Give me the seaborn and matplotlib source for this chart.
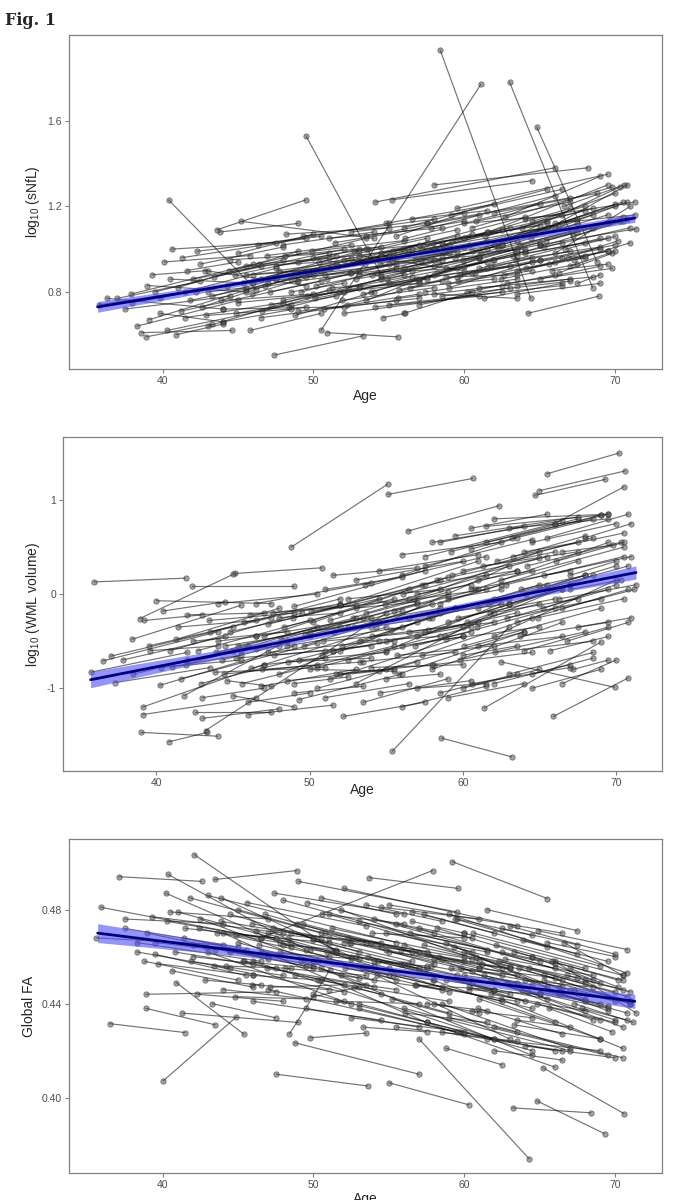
import numpy as np
import pandas as pd
import matplotlib
matplotlib.use('Agg')
import matplotlib.pyplot as plt
import seaborn as sns

# ---- panel 1: log10(sNfL), one row per subject (first visit, second visit)
p1_age0 = [35.8, 36.3, 37.0, 37.9, 38.3, 38.6, 38.9, 39.1, 39.3, 39.5,
           39.8, 40.1, 40.3, 40.4, 40.6, 40.9, 41.0, 41.3, 41.5, 41.8,
           42.0, 42.3, 42.6, 42.8, 43.0, 43.3, 43.6, 43.8, 44.0, 44.3,
           44.5, 44.8, 45.0, 45.2, 45.5, 45.8, 46.0, 46.3, 46.6, 46.9,
           47.1, 47.4, 47.7, 48.0, 48.2, 48.5, 48.8, 49.0, 49.3, 49.5,
           49.6, 49.9, 50.2, 50.5, 50.7, 50.9, 51.1, 51.4, 51.7, 52.0,
           52.2, 52.5, 52.8, 53.0, 53.3, 53.6, 53.9, 54.1, 54.4, 54.6,
           54.8, 55.0, 55.3, 55.6, 55.9, 56.1, 56.4, 56.7, 57.0, 57.2,
           57.5, 57.8, 58.0, 58.4, 58.3, 58.6, 58.9, 59.1, 59.4, 59.7,
           60.0, 60.2, 60.5, 60.8, 61.0, 61.3, 61.6, 61.9, 62.1, 62.4,
           62.7, 63.0, 63.2, 63.5, 63.8, 64.2, 64.0, 64.4, 64.8, 65.0,
           65.3, 65.6, 66.0, 66.3, 66.6, 66.9, 67.2, 67.5, 65.0, 61.5,
           56.0, 59.0, 52.3, 45.5, 47.5, 50.8, 43.0, 54.0, 60.0, 62.5,
           57.0, 48.5, 53.5, 64.5, 55.5, 50.0, 46.0, 58.0, 63.5, 67.0,
           58.0, 54.1, 55.2, 59.5]
p1_age1 = [41.5, 44.0, 42.5, 46.0, 45.0, 44.6, 43.3, 47.0, 43.0, 48.0,
           44.0, 45.8, 48.5, 46.2, 47.5, 44.0, 49.0, 49.5, 48.0, 50.0,
           46.5, 50.5, 50.0, 49.5, 51.0, 47.5, 49.5, 49.0, 52.0, 52.5,
           51.0, 53.0, 52.0, 54.0, 53.5, 50.5, 53.0, 55.0, 54.5, 52.5,
           55.5, 53.3, 55.0, 56.0, 55.0, 57.0, 54.0, 56.5, 58.0, 54.5,
           57.5, 56.0, 58.5, 61.1, 57.0, 55.6, 59.0, 60.0, 58.5, 59.5,
           60.5, 57.5, 61.0, 60.0, 62.0, 59.5, 62.5, 61.0, 63.0, 56.1,
           62.0, 61.5, 64.0, 62.5, 63.5, 65.0, 62.0, 64.5, 63.0, 65.5,
           64.0, 66.0, 63.5, 64.4, 65.0, 67.0, 64.5, 66.5, 67.5, 65.0,
           68.0, 66.0, 68.5, 67.0, 69.0, 66.5, 69.5, 68.0, 70.0, 67.5,
           69.0, 68.5, 70.5, 68.0, 70.0, 68.9, 69.5, 70.8, 68.8, 69.0,
           71.0, 70.2, 71.3, 69.8, 70.6, 69.5, 70.3, 69.0, 71.4, 70.3,
           60.5, 64.5, 56.5, 49.0, 51.5, 55.0, 45.5, 58.0, 63.5, 66.0,
           61.0, 52.0, 57.0, 68.0, 60.0, 53.5, 49.5, 61.5, 67.0, 70.0,
           68.2, 66.0, 64.5, 69.5]
p1_y0 = [0.74, 0.77, 0.77, 0.79, 0.64, 0.61, 0.59, 0.67, 0.88, 0.80,
         0.70, 0.94, 0.62, 1.23, 1.00, 0.60, 0.82, 0.96, 0.68, 0.76,
         0.86, 0.99, 0.73, 0.90, 0.64, 0.78, 1.09, 1.08, 0.72, 0.83,
         0.95, 0.88, 0.75, 1.13, 0.92, 0.62, 0.85, 1.02, 0.71, 0.97,
         0.80, 0.505, 0.90, 0.76, 1.07, 0.86, 0.69, 0.94, 1.06, 1.53,
         0.78, 0.99, 0.83, 0.62, 0.72, 0.61, 0.91, 1.03, 0.80, 0.95,
         0.74, 1.08, 0.86, 0.97, 0.79, 1.00, 0.88, 0.73, 0.93, 0.68,
         1.12, 0.84, 0.99, 0.77, 0.90, 1.05, 0.82, 0.95, 0.74, 1.00,
         0.87, 1.10, 0.79, 1.93, 0.93, 1.02, 0.84, 1.16, 0.96, 0.88,
         1.05, 0.80, 0.99, 1.13, 0.91, 0.77, 1.08, 0.95, 1.02, 0.86,
         1.15, 1.78, 0.97, 0.90, 1.10, 0.70, 0.98, 1.05, 1.57, 0.86,
         1.01, 0.93, 1.12, 0.89, 1.20, 0.96, 1.06, 0.84, 1.02, 1.00,
         0.70, 0.82, 0.82, 0.81, 0.92, 0.88, 0.80, 0.96, 0.92, 1.04,
         0.85, 0.80, 0.76, 1.13, 1.06, 0.96, 0.88, 1.00, 0.83, 0.92,
         1.30, 1.22, 1.23, 1.19]
p1_y1 = [0.80, 0.72, 0.85, 0.93, 0.76, 0.62, 0.65, 0.84, 0.90, 0.95,
         0.66, 0.97, 0.74, 0.81, 1.03, 0.65, 0.99, 1.05, 0.75, 0.88,
         0.92, 1.06, 0.90, 0.83, 0.81, 0.86, 1.23, 1.12, 0.73, 0.96,
         0.98, 1.00, 0.80, 1.05, 0.95, 0.70, 0.99, 1.12, 0.86, 1.02,
         0.93, 0.595, 0.97, 0.88, 1.10, 1.02, 0.80, 1.00, 1.14, 0.88,
         0.86, 1.04, 0.95, 1.77, 0.79, 0.59, 1.02, 1.13, 0.85, 1.06,
         0.89, 1.12, 0.96, 0.90, 0.95, 1.09, 1.02, 0.78, 1.10, 0.70,
         1.21, 0.91, 1.15, 0.83, 1.04, 1.21, 0.86, 1.08, 0.82, 1.10,
         0.99, 1.25, 0.77, 0.77, 1.02, 1.19, 0.90, 1.28, 1.12, 0.95,
         1.18, 0.88, 1.16, 1.22, 1.05, 0.84, 1.30, 1.03, 1.21, 0.93,
         1.34, 0.82, 1.13, 0.96, 1.26, 0.78, 1.05, 1.30, 0.94, 0.92,
         1.10, 1.04, 1.16, 0.98, 1.30, 0.99, 1.13, 0.88, 1.095, 1.29,
         0.80, 0.94, 0.90, 0.85, 0.97, 0.93, 0.82, 1.00, 0.97, 1.10,
         0.96, 0.84, 0.86, 1.20, 1.17, 1.00, 0.90, 1.04, 0.86, 0.99,
         1.38, 1.38, 1.32, 1.35]
# subjects in the dense middle band
p1b_age0 = [37.5, 38.0, 39.0, 39.8, 40.5, 41.2, 41.6, 42.2, 42.9, 43.4,
            43.9, 44.4, 44.9, 45.3, 45.9, 46.4, 46.8, 47.2, 47.6, 48.1,
            48.4, 48.9, 49.2, 49.7, 50.1, 50.4, 50.9, 51.2, 51.6, 51.9,
            52.4, 52.7, 53.1, 53.4, 53.8, 54.2, 54.5, 54.9, 55.2, 55.7,
            56.0, 56.3, 56.8, 57.1, 57.4, 57.9, 58.2, 58.5, 58.8, 59.2,
            59.6, 59.9, 60.3, 60.7, 61.1, 61.4, 61.8, 62.2, 62.6, 63.0,
            63.4, 63.7, 64.1, 64.6, 65.0, 65.4, 65.8, 66.2, 66.7, 67.3,
            60.5, 62.0, 57.5, 56.0, 53.5, 51.0, 48.0, 45.0, 42.5, 55.0,
            52.0, 58.5, 61.0, 63.5, 49.0, 46.5, 44.0, 59.5, 54.5, 50.5,
            47.0, 64.0, 60.0, 56.5, 66.0, 62.8, 58.8, 53.0, 49.5, 45.5]
p1b_age1 = [44.5, 46.5, 45.5, 47.5, 46.0, 50.5, 45.0, 51.5, 48.5, 52.0,
            50.0, 53.5, 51.5, 52.5, 54.5, 51.0, 56.0, 53.0, 57.5, 54.5,
            56.5, 55.5, 59.0, 55.0, 58.0, 57.5, 60.0, 57.0, 61.5, 58.0,
            62.0, 58.5, 61.5, 60.5, 63.5, 59.5, 62.5, 63.5, 61.0, 64.5,
            62.5, 65.5, 63.0, 66.5, 63.5, 65.0, 66.5, 64.0, 67.5, 65.5,
            66.0, 68.5, 67.5, 66.5, 69.5, 68.5, 67.0, 69.5, 68.0, 70.0,
            69.0, 70.5, 69.5, 70.5, 70.0, 70.8, 69.5, 70.8, 70.0, 71.0,
            69.8, 68.8, 67.0, 65.5, 61.0, 58.5, 54.0, 50.0, 48.0, 66.5,
            62.5, 67.0, 68.5, 69.0, 57.0, 55.5, 49.5, 69.0, 65.0, 59.5,
            58.0, 71.3, 66.5, 61.5, 71.0, 69.8, 63.5, 58.0, 53.0, 50.5]
p1b_y0 = [0.72, 0.75, 0.83, 0.77, 0.86, 0.71, 0.90, 0.80, 0.69, 0.87,
          0.76, 0.90, 0.70, 0.84, 0.79, 0.93, 0.83, 0.74, 0.87, 0.97,
          0.73, 0.85, 0.80, 0.90, 0.77, 0.94, 0.86, 0.82, 0.92, 0.76,
          0.89, 0.99, 0.83, 0.93, 0.80, 0.89, 0.98, 0.86, 0.94, 0.81,
          0.91, 0.98, 0.86, 0.95, 0.80, 1.03, 0.89, 0.97, 0.91, 1.04,
          0.85, 0.95, 1.02, 0.89, 0.98, 1.06, 0.92, 1.00, 0.88, 1.05,
          0.95, 1.02, 0.91, 1.08, 0.95, 1.04, 0.90, 1.10, 1.00, 0.95,
          1.10, 1.17, 1.12, 1.10, 1.06, 1.05, 1.02, 0.98, 0.93, 0.74,
          0.70, 0.78, 0.82, 0.79, 0.71, 0.68, 0.66, 0.87, 0.87, 0.90,
          0.86, 1.14, 1.12, 1.14, 0.98, 0.84, 0.87, 0.88, 0.87, 0.88]
p1b_y1 = [0.78, 0.86, 0.80, 0.91, 0.84, 0.85, 0.94, 0.93, 0.72, 1.00,
          0.79, 1.05, 0.78, 0.89, 0.97, 0.96, 0.99, 0.82, 1.03, 1.01,
          0.87, 0.91, 0.98, 0.97, 0.88, 1.05, 1.01, 0.84, 1.08, 0.82,
          1.02, 1.03, 0.94, 1.07, 0.99, 0.91, 1.09, 1.00, 0.97, 0.96,
          1.02, 1.13, 0.92, 1.12, 0.86, 1.11, 1.03, 1.00, 1.08, 1.12,
          0.94, 1.10, 1.14, 0.96, 1.16, 1.19, 0.99, 1.12, 0.97, 1.20,
          1.01, 1.15, 0.99, 1.22, 1.02, 1.14, 0.93, 1.22, 1.06, 1.03,
          1.29, 1.26, 1.24, 1.28, 1.16, 1.10, 1.08, 1.07, 1.01, 0.83,
          0.80, 0.85, 0.87, 0.84, 0.77, 0.76, 0.73, 1.00, 1.03, 0.99,
          0.95, 1.22, 1.16, 1.18, 1.20, 0.91, 0.88, 0.92, 0.90, 0.91]

# ---- panel 2: log10(WML volume)
p2_age0 = [35.95, 35.7, 36.5, 37.0, 37.3, 38.4, 38.9, 39.0, 39.1, 39.1,
           39.2, 39.6, 40.0, 40.2, 40.4, 40.8, 41.0, 41.3, 41.6, 41.8,
           42.0, 42.3, 42.5, 42.7, 43.0, 43.2, 43.5, 43.8, 44.0, 44.3,
           44.6, 45.0, 45.1, 45.3, 45.7, 46.0, 46.2, 46.5, 46.8, 47.0,
           47.3, 47.6, 48.0, 48.3, 48.6, 48.8, 49.0, 49.3, 49.6, 50.0,
           50.2, 50.5, 50.8, 51.0, 51.3, 51.6, 52.0, 52.2, 52.5, 52.8,
           53.0, 53.3, 53.6, 54.0, 54.3, 54.6, 55.1, 55.4, 55.0, 55.5,
           55.8, 56.0, 56.4, 56.5, 56.8, 57.0, 57.3, 57.5, 57.8, 58.0,
           58.3, 58.6, 58.8, 59.0, 59.2, 59.5, 59.8, 60.0, 60.3, 60.6,
           60.8, 61.0, 61.4, 61.5, 61.8, 62.0, 62.2, 62.5, 62.8, 63.0,
           63.2, 63.5, 63.8, 64.0, 64.2, 64.5, 64.7, 65.0, 65.2, 65.5,
           65.9, 66.0, 66.3, 66.5, 66.8, 67.0, 67.2, 62.0, 60.5, 58.5,
           48.0, 45.5, 50.0, 53.0, 44.0, 56.0, 59.0, 61.0, 63.0, 51.5,
           49.0, 54.5, 57.0, 47.0, 52.0, 68.0, 55.0, 60.0, 42.0, 64.0]
p2_age1 = [41.9, 42.0, 44.0, 45.0, 43.5, 45.5, 45.0, 44.0, 47.0, 46.5,
           43.0, 44.0, 47.5, 49.0, 44.5, 43.3, 45.5, 48.0, 50.5, 48.5,
           47.0, 49.0, 47.5, 50.0, 48.0, 55.0, 52.0, 51.0, 50.5, 52.5,
           47.5, 49.0, 50.8, 53.5, 52.0, 51.5, 55.0, 54.0, 53.0, 56.5,
           54.5, 53.0, 57.0, 55.5, 54.0, 55.1, 57.5, 56.0, 58.0, 55.5,
           59.0, 57.0, 59.5, 56.0, 60.0, 58.0, 61.0, 57.5, 60.5, 59.0,
           62.0, 58.5, 61.5, 60.0, 63.0, 60.5, 60.65, 63.0, 62.5, 61.0,
           64.0, 63.5, 62.35, 62.0, 65.0, 61.5, 64.5, 66.0, 63.0, 66.5,
           65.0, 63.2, 67.0, 64.0, 67.5, 65.5, 68.0, 66.0, 68.5, 67.0,
           69.5, 66.5, 69.0, 69.5, 67.5, 70.0, 68.0, 69.9, 70.5, 68.5,
           69.0, 70.8, 68.0, 69.5, 70.3, 69.0, 69.3, 70.6, 70.0, 70.2,
           70.8, 70.5, 71.3, 69.8, 70.8, 70.0, 69.5, 69.5, 65.5, 64.0,
           52.0, 48.0, 54.0, 57.0, 46.5, 60.0, 62.5, 64.5, 66.5, 55.5,
           52.5, 58.5, 60.5, 51.0, 55.0, 71.0, 58.5, 63.5, 45.0, 67.5]
p2_y0 = [0.13, -0.83, -0.71, -0.66, -0.94, -0.48, -0.26, -1.47, -1.20, -1.28,
         -0.28, -0.60, -0.07, -0.97, -0.18, -1.57, -0.77, -0.48, -0.90, -1.08,
         -0.22, 0.09, -1.25, -0.60, -1.32, -1.45, -0.40, -0.83, -0.10, -0.70,
         -0.92, -1.08, 0.22, -0.55, -0.30, -1.28, -0.79, -0.10, -0.98, -0.45,
         -0.62, -0.20, -0.85, -0.35, -0.72, 0.50, -0.13, -1.12, -0.55, -0.80,
         -0.30, -1.00, -0.65, 0.05, -0.90, -0.40, -0.12, -1.30, -0.70, -0.25,
         -0.95, -0.50, 0.10, -0.78, -0.35, -1.05, 1.06, -1.67, -0.60, -0.18,
         -0.85, 0.20, 0.67, -0.40, -0.05, -1.00, -0.65, 0.40, -0.25, -0.80,
         0.15, -1.53, -0.45, -1.10, 0.45, -0.15, -0.70, 0.25, -0.30, -0.95,
         0.05, -0.55, -1.21, 0.55, -0.20, -0.45, 0.35, -0.72, 0.10, -0.85,
         0.60, -0.30, 0.05, -0.60, 0.30, -1.00, 1.05, 1.10, -0.15, 1.28,
         -1.30, 0.75, -0.05, 0.45, -0.50, 0.20, -0.80, 0.80, 0.70, 0.55,
         -0.25, -0.60, -0.45, -0.15, -0.50, -0.55, -0.05, 0.15, -0.10, -0.60,
         -0.95, -0.30, 0.00, -0.75, -0.85, 0.60, -0.90, -0.65, -0.70, 0.45]
p2_y1 = [0.17, -0.62, -0.40, -0.35, -0.78, -0.12, 0.21, -1.51, -0.75, -1.10,
         -0.22, -0.55, -0.10, -0.55, -0.08, -1.47, -0.65, -0.15, -0.52, -0.50,
         -0.20, 0.09, -1.25, -0.28, -1.22, -0.20, -0.05, -0.78, 0.00, -0.35,
         -0.98, -1.20, 0.28, -0.25, -0.10, -1.18, -0.35, 0.12, -0.80, 0.05,
         -0.50, -0.12, -0.30, -0.05, -0.68, 1.17, 0.25, -0.85, -0.10, -0.82,
         0.18, -0.72, -0.15, 0.18, -0.45, -0.25, 0.35, -1.15, -0.40, 0.02,
         -0.20, -0.45, 0.40, -0.75, 0.30, -0.92, 1.23, -0.35, -0.10, 0.05,
         -0.40, 0.60, 0.94, -0.30, 0.45, -0.95, -0.25, 0.75, -0.05, -0.30,
         0.38, -1.73, 0.10, -0.95, 0.80, 0.10, -0.40, 0.45, 0.20, -0.78,
         0.55, -0.45, -0.51, 0.85, -0.05, 0.15, 0.62, -0.99, 0.40, -0.62,
         0.84, 0.05, 0.20, -0.35, 0.55, -0.80, 1.22, 1.31, 0.10, 1.50,
         -0.89, 1.14, 0.10, 0.52, -0.30, 0.35, -0.70, 0.85, 0.85, 0.72,
         -0.20, -0.55, -0.35, -0.08, -0.45, -0.45, 0.05, 0.25, 0.05, -0.50,
         -0.88, -0.20, 0.10, -0.68, -0.80, 0.75, -0.85, -0.55, -0.60, 0.55]
p2b_age0 = [37.8, 38.5, 39.5, 40.3, 40.9, 41.4, 41.9, 42.4, 42.9, 43.4,
            43.9, 44.4, 44.8, 45.2, 45.6, 46.1, 46.5, 46.9, 47.3, 47.7,
            48.1, 48.5, 48.9, 49.3, 49.7, 50.1, 50.5, 50.9, 51.3, 51.7,
            52.1, 52.5, 52.9, 53.3, 53.7, 54.1, 54.5, 54.9, 55.3, 55.7,
            56.1, 56.5, 56.9, 57.3, 57.7, 58.1, 58.5, 58.9, 59.3, 59.7,
            60.1, 60.5, 60.9, 61.3, 61.7, 62.1, 62.5, 62.9, 63.3, 63.7,
            64.1, 64.5, 64.9, 65.3, 65.7, 66.1, 66.5, 67.0, 67.5, 58.0,
            59.5, 60.5, 61.5, 57.5, 56.0, 54.5, 53.0, 51.5, 63.0, 49.0,
            51.0, 53.5, 56.0, 58.5, 60.0, 46.0, 43.0, 62.0, 64.5, 50.0,
            52.0, 55.0, 57.0, 59.0, 61.0, 48.5, 46.5, 44.5, 65.5, 66.5]
p2b_age1 = [44.5, 46.0, 47.5, 45.5, 49.5, 46.5, 50.5, 48.5, 51.5, 49.0,
            53.0, 50.5, 54.5, 51.0, 55.5, 52.0, 56.0, 53.5, 57.5, 54.0,
            57.0, 55.5, 58.5, 55.0, 59.0, 56.5, 60.5, 57.5, 61.5, 58.0,
            62.0, 58.5, 62.5, 59.5, 63.5, 61.0, 64.0, 61.5, 65.0, 62.0,
            65.5, 63.0, 66.0, 63.5, 67.0, 64.5, 67.5, 65.0, 68.5, 66.0,
            69.0, 67.0, 69.5, 67.5, 70.0, 68.5, 70.5, 69.0, 70.5, 69.5,
            70.8, 70.0, 70.5, 71.0, 69.5, 70.5, 71.2, 70.3, 71.0, 66.5,
            67.5, 68.5, 69.0, 64.5, 62.5, 61.0, 60.0, 57.0, 69.5, 53.5,
            56.5, 59.0, 61.5, 63.5, 65.0, 50.0, 47.0, 67.0, 68.5, 58.5,
            60.0, 63.5, 65.0, 66.5, 68.0, 56.0, 54.0, 52.0, 70.8, 70.0]
p2b_y0 = [-0.70, -0.85, -0.55, -0.78, -0.60, -0.35, -0.75, -0.50, -0.95, -0.28,
          -0.62, -0.85, -0.40, -0.68, -0.95, -0.22, -0.58, -0.80, -0.32, -0.65,
          -0.48, -0.92, -0.25, -0.70, -0.42, -0.18, -0.78, -0.50, -0.28, -0.85,
          -0.55, -0.05, -0.35, -0.72, -0.20, -0.45, -0.82, -0.10, -0.38, -0.65,
          0.00, -0.25, -0.55, 0.10, -0.38, -0.75, -0.10, -0.48, 0.20, -0.25,
          -0.55, 0.05, -0.35, 0.30, -0.10, -0.62, 0.15, -0.25, 0.40, -0.45,
          0.00, 0.55, -0.25, 0.20, -0.60, 0.35, -0.15, 0.05, -0.35, 0.55,
          0.62, 0.48, 0.72, 0.30, 0.42, 0.25, 0.15, 0.20, 0.70, -1.05,
          -1.10, -1.15, -1.20, -1.05, -1.00, -1.15, -1.10, -0.95, -0.85, -0.40,
          -0.60, -0.50, -0.45, -0.30, -0.15, -0.55, -0.45, -0.55, 0.60, -0.95]
p2b_y1 = [-0.45, -0.55, -0.25, -0.70, -0.20, -0.28, -0.35, -0.40, -0.60, -0.20,
          -0.25, -0.75, -0.05, -0.60, -0.55, -0.12, -0.18, -0.72, 0.10, -0.55,
          -0.10, -0.80, 0.15, -0.62, -0.02, -0.05, -0.35, -0.40, 0.20, -0.75,
          -0.05, 0.05, 0.10, -0.62, 0.25, -0.30, -0.40, 0.05, 0.10, -0.55,
          0.40, -0.10, -0.15, 0.25, 0.10, -0.62, 0.35, -0.35, 0.60, -0.05,
          -0.15, 0.25, 0.05, 0.45, 0.30, -0.50, 0.50, -0.05, 0.65, -0.30,
          0.30, 0.75, -0.05, 0.40, -0.45, 0.55, 0.05, 0.15, -0.25, 0.78,
          0.82, 0.80, 0.84, 0.58, 0.55, 0.42, 0.35, 0.28, 0.80, -0.98,
          -0.95, -0.90, -0.98, -0.85, -0.80, -1.05, -1.00, -0.75, -0.68, -0.15,
          -0.35, -0.20, -0.10, 0.05, 0.20, -0.35, -0.25, -0.35, 0.85, -0.70]

# ---- panel 3: global FA
p3_age0 = [35.6, 35.9, 37.1, 36.5, 37.5, 38.3, 38.8, 38.9, 38.9, 39.3,
           39.5, 40.05, 40.35, 40.2, 40.5, 40.6, 40.9, 41.3, 41.5, 41.8,
           42.1, 42.3, 42.5, 42.8, 43.0, 43.45, 43.3, 43.6, 43.9, 44.2,
           44.5, 44.8, 45.0, 45.3, 45.6, 45.9, 46.2, 46.5, 46.8, 47.1,
           47.4, 47.55, 47.8, 48.1, 48.4, 48.75, 48.9, 49.2, 49.6, 49.8,
           50.0, 50.3, 50.6, 50.9, 51.2, 51.5, 51.8, 52.1, 52.4, 52.7,
           53.0, 53.7, 53.3, 53.6, 53.9, 54.2, 54.5, 55.0, 54.8, 55.2,
           55.5, 55.8, 56.1, 56.4, 56.7, 57.0, 46.5, 57.3, 57.6, 57.9,
           58.2, 58.5, 58.8, 59.2, 59.1, 59.4, 59.7, 60.0, 60.3, 60.6,
           60.9, 61.2, 61.5, 61.8, 62.1, 62.4, 62.7, 63.0, 63.2, 63.3,
           63.6, 63.9, 64.2, 64.8, 64.5, 65.2, 64.9, 65.3, 65.6, 66.0,
           66.3, 66.6, 67.0, 67.3, 59.0, 55.0, 52.0, 49.0, 44.0, 46.0,
           50.5, 56.0, 61.0, 53.0, 57.5, 62.0, 58.8, 48.0, 44.5, 51.0,
           54.0, 60.0, 65.0, 42.0, 47.0, 56.5, 62.5, 68.0, 50.0, 58.0]
p3_age1 = [44.0, 46.5, 42.6, 41.5, 44.0, 44.5, 45.0, 47.5, 43.5, 48.0,
           45.5, 44.9, 49.5, 48.5, 47.0, 46.0, 45.4, 49.0, 47.5, 50.5,
           51.5, 48.0, 50.0, 46.5, 52.0, 48.9, 47.5, 51.0, 52.5, 48.5,
           53.0, 49.5, 54.0, 50.0, 53.5, 51.0, 55.0, 53.0, 54.5, 52.0,
           56.0, 53.6, 55.5, 53.5, 51.1, 57.0, 56.5, 54.0, 58.0, 53.5,
           57.5, 59.0, 56.0, 58.5, 60.0, 57.0, 61.0, 58.0, 60.5, 59.0,
           61.5, 59.6, 57.5, 62.0, 60.0, 63.0, 61.0, 60.3, 62.5, 63.5,
           60.5, 64.0, 61.5, 65.0, 62.0, 64.3, 57.9, 65.5, 63.0, 66.0,
           64.5, 67.0, 65.5, 65.5, 63.5, 67.5, 66.0, 68.0, 65.0, 69.0,
           66.5, 69.5, 67.5, 70.0, 68.0, 70.5, 68.5, 70.0, 68.4, 69.0,
           71.0, 69.5, 70.5, 69.3, 69.0, 70.6, 70.8, 71.0, 69.8, 71.4,
           70.0, 70.5, 70.2, 71.2, 70.8, 66.5, 63.5, 59.5, 57.5, 62.0,
           64.5, 68.5, 69.0, 60.0, 66.0, 66.5, 62.5, 51.5, 47.0, 54.5,
           57.5, 63.5, 68.0, 45.5, 50.0, 60.0, 66.0, 71.0, 53.0, 61.0]
p3_y0 = [0.468, 0.481, 0.494, 0.4315, 0.476, 0.462, 0.458, 0.444, 0.438, 0.477,
         0.461, 0.4072, 0.495, 0.487, 0.479, 0.454, 0.449, 0.436, 0.472, 0.485,
         0.5034, 0.444, 0.476, 0.450, 0.462, 0.4928, 0.440, 0.470, 0.485, 0.456,
         0.478, 0.443, 0.466, 0.458, 0.483, 0.448, 0.471, 0.462, 0.478, 0.447,
         0.487, 0.410, 0.466, 0.455, 0.427, 0.4234, 0.474, 0.458, 0.483, 0.4255,
         0.467, 0.450, 0.478, 0.462, 0.472, 0.441, 0.480, 0.455, 0.466, 0.447,
         0.475, 0.4936, 0.430, 0.460, 0.470, 0.452, 0.481, 0.4064, 0.463, 0.442,
         0.474, 0.457, 0.436, 0.470, 0.448, 0.425, 0.468, 0.478, 0.461, 0.450,
         0.472, 0.440, 0.466, 0.5004, 0.455, 0.476, 0.428, 0.462, 0.446, 0.470,
         0.438, 0.457, 0.480, 0.450, 0.465, 0.442, 0.459, 0.473, 0.3957, 0.431,
         0.455, 0.467, 0.445, 0.3987, 0.460, 0.4128, 0.471, 0.452, 0.438, 0.458,
         0.447, 0.466, 0.455, 0.440, 0.478, 0.482, 0.489, 0.492, 0.470, 0.458,
         0.455, 0.465, 0.442, 0.438, 0.432, 0.420, 0.421, 0.465, 0.462, 0.468,
         0.458, 0.452, 0.445, 0.465, 0.470, 0.475, 0.462, 0.450, 0.443, 0.440]
p3_y1 = [0.465, 0.468, 0.492, 0.4277, 0.474, 0.455, 0.450, 0.445, 0.431, 0.470,
         0.452, 0.4344, 0.463, 0.464, 0.476, 0.447, 0.427, 0.432, 0.468, 0.470,
         0.462, 0.441, 0.458, 0.448, 0.441, 0.4966, 0.434, 0.466, 0.460, 0.455,
         0.462, 0.442, 0.450, 0.455, 0.473, 0.446, 0.455, 0.459, 0.464, 0.448,
         0.478, 0.405, 0.450, 0.452, 0.4545, 0.410, 0.462, 0.447, 0.470, 0.4275,
         0.455, 0.441, 0.474, 0.447, 0.460, 0.440, 0.458, 0.450, 0.454, 0.436,
         0.463, 0.489, 0.428, 0.446, 0.468, 0.425, 0.476, 0.397, 0.452, 0.428,
         0.468, 0.441, 0.432, 0.458, 0.446, 0.374, 0.4966, 0.464, 0.455, 0.432,
         0.460, 0.421, 0.447, 0.4847, 0.452, 0.461, 0.420, 0.442, 0.444, 0.456,
         0.427, 0.437, 0.471, 0.433, 0.455, 0.421, 0.452, 0.461, 0.3936, 0.425,
         0.441, 0.458, 0.430, 0.3847, 0.449, 0.3932, 0.463, 0.440, 0.428, 0.436,
         0.441, 0.452, 0.447, 0.432, 0.453, 0.470, 0.473, 0.479, 0.432, 0.425,
         0.418, 0.433, 0.425, 0.427, 0.413, 0.416, 0.414, 0.463, 0.460, 0.466,
         0.456, 0.449, 0.441, 0.463, 0.468, 0.470, 0.457, 0.445, 0.447, 0.436]
p3b_age0 = [37.5, 38.3, 39.0, 39.7, 40.3, 40.8, 41.4, 41.9, 42.4, 42.9,
            43.4, 43.9, 44.4, 44.9, 45.4, 45.9, 46.4, 46.9, 47.3, 47.8,
            48.3, 48.8, 49.3, 49.8, 50.3, 50.8, 51.3, 51.8, 52.3, 52.8,
            53.3, 53.8, 54.3, 54.8, 55.3, 55.8, 56.3, 56.8, 57.3, 57.8,
            58.3, 58.8, 59.3, 59.8, 60.3, 60.8, 61.3, 61.8, 62.3, 62.8,
            63.3, 63.8, 64.3, 64.8, 65.3, 65.8, 66.3, 66.8, 67.3, 67.8,
            45.0, 48.0, 51.0, 54.0, 57.0, 60.0, 43.0, 41.0, 47.0, 50.0,
            53.0, 56.0, 59.0, 62.0, 44.0, 46.0, 49.5, 52.5, 55.5, 58.5,
            61.5, 64.0, 48.5, 52.0, 55.0, 58.0, 61.0, 64.0, 39.5, 42.0,
            50.5, 53.5, 56.5, 59.5, 62.5, 65.5, 46.0, 57.5, 60.5, 63.5]
p3b_age1 = [45.0, 46.5, 47.0, 46.0, 48.5, 47.5, 50.0, 48.0, 51.0, 49.5,
            52.0, 50.5, 53.0, 51.5, 54.5, 52.5, 55.0, 53.5, 56.5, 54.0,
            57.0, 55.5, 58.5, 56.0, 59.0, 57.5, 60.5, 58.5, 61.0, 59.5,
            62.5, 60.5, 63.0, 61.5, 64.5, 62.5, 65.0, 63.5, 66.5, 64.5,
            67.0, 65.5, 68.0, 66.5, 69.0, 67.5, 69.5, 68.0, 70.0, 69.0,
            70.5, 69.5, 70.8, 70.0, 71.0, 70.2, 70.8, 70.5, 71.0, 70.8,
            58.0, 60.5, 63.0, 66.0, 68.5, 70.5, 55.5, 52.5, 59.5, 62.0,
            64.5, 67.0, 69.5, 70.5, 52.5, 54.5, 57.0, 60.0, 63.5, 66.5,
            69.0, 70.0, 53.5, 57.0, 60.0, 63.0, 66.0, 68.5, 43.5, 46.0,
            55.5, 58.5, 62.0, 64.5, 67.5, 70.0, 50.5, 61.5, 64.5, 67.0]
p3b_y0 = [0.472, 0.466, 0.470, 0.457, 0.475, 0.462, 0.468, 0.458, 0.472, 0.464,
          0.456, 0.475, 0.463, 0.469, 0.458, 0.474, 0.465, 0.455, 0.472, 0.462,
          0.468, 0.452, 0.474, 0.463, 0.458, 0.470, 0.462, 0.452, 0.468, 0.460,
          0.455, 0.466, 0.458, 0.470, 0.452, 0.463, 0.457, 0.448, 0.465, 0.456,
          0.460, 0.450, 0.464, 0.455, 0.447, 0.460, 0.452, 0.444, 0.458, 0.449,
          0.462, 0.446, 0.455, 0.440, 0.450, 0.458, 0.444, 0.452, 0.446, 0.438,
          0.480, 0.484, 0.478, 0.476, 0.472, 0.470, 0.486, 0.479, 0.446, 0.444,
          0.440, 0.438, 0.434, 0.430, 0.446, 0.441, 0.438, 0.434, 0.430, 0.428,
          0.425, 0.422, 0.470, 0.466, 0.462, 0.459, 0.455, 0.450, 0.466, 0.460,
          0.485, 0.482, 0.479, 0.476, 0.472, 0.466, 0.452, 0.440, 0.437, 0.433]
p3b_y1 = [0.464, 0.458, 0.459, 0.452, 0.466, 0.455, 0.456, 0.452, 0.460, 0.456,
          0.445, 0.468, 0.451, 0.462, 0.444, 0.466, 0.452, 0.448, 0.458, 0.456,
          0.455, 0.446, 0.459, 0.457, 0.445, 0.462, 0.449, 0.446, 0.455, 0.452,
          0.441, 0.459, 0.444, 0.462, 0.438, 0.455, 0.444, 0.441, 0.450, 0.448,
          0.446, 0.442, 0.449, 0.447, 0.433, 0.451, 0.439, 0.437, 0.445, 0.440,
          0.450, 0.438, 0.443, 0.432, 0.441, 0.450, 0.436, 0.446, 0.440, 0.433,
          0.457, 0.462, 0.456, 0.455, 0.450, 0.452, 0.466, 0.459, 0.428, 0.425,
          0.420, 0.420, 0.418, 0.417, 0.440, 0.433, 0.430, 0.428, 0.424, 0.420,
          0.420, 0.417, 0.466, 0.462, 0.458, 0.455, 0.451, 0.447, 0.463, 0.457,
          0.478, 0.475, 0.470, 0.469, 0.465, 0.460, 0.450, 0.437, 0.434, 0.430]

# ---- fitted mean trajectory and confidence band (half width)
fit_age = [35.7, 44.6, 53.5, 62.4, 71.3]
p1_fit = [0.73, 0.834, 0.938, 1.041, 1.145]
p1_ci = [0.025, 0.013, 0.009, 0.013, 0.02]
p2_fit = [-0.91, -0.625, -0.34, -0.055, 0.23]
p2_ci = [0.085, 0.045, 0.03, 0.04, 0.07]
p3_fit = [0.470, 0.4628, 0.4555, 0.4483, 0.441]
p3_ci = [0.004, 0.0022, 0.0013, 0.0018, 0.003]

sns.set_theme(style='ticks')
plt.rcParams['font.family'] = ['Liberation Sans', 'DejaVu Sans']
plt.rcParams['mathtext.fontset'] = 'custom'
plt.rcParams['mathtext.rm'] = 'Liberation Sans'


def long_table(a0, a1, y0, y1):
    n = len(a0)
    return pd.DataFrame({'subject': list(range(n)) * 2,
                         'age': a0 + a1,
                         'value': y0 + y1})


def draw_panel(ax, df, fit, ci):
    sns.lineplot(data=df, x='age', y='value', units='subject', estimator=None,
                 color='black', alpha=0.55, lw=0.85, ax=ax)
    sns.scatterplot(data=df, x='age', y='value', color='#4a4a4a', alpha=0.5,
                    s=15, edgecolor='#1a1a1a', linewidth=0.6, ax=ax, zorder=3)
    fit = np.array(fit)
    ci = np.array(ci)
    ax.fill_between(fit_age, fit - ci, fit + ci, color='#4f4ff5', alpha=0.6,
                    lw=0, zorder=4)
    sns.lineplot(x=fit_age, y=fit, color='#000080', lw=2.0, ax=ax, zorder=5)
    for s in ax.spines.values():
        s.set_color('#808080')
        s.set_linewidth(0.9)
    ax.tick_params(direction='out', length=3, width=0.8, color='#808080',
                   labelsize=7.5, labelcolor='#4d4d4d', pad=2)


fig = plt.figure(figsize=(6.85, 12), dpi=100)
fig.text(0.008, 0.990, 'Fig. 1', fontsize=11.5, fontweight='bold',
         family='DejaVu Serif', va='top', ha='left')

ax1 = fig.add_axes([0.1007, 0.6925, 0.8657, 0.2783])
draw_panel(ax1, long_table(p1_age0 + p1b_age0, p1_age1 + p1b_age1,
                           p1_y0 + p1b_y0, p1_y1 + p1b_y1), p1_fit, p1_ci)
ax1.set_xlim(33.8, 73.1)
ax1.set_ylim(0.44, 2.0)
ax1.set_xticks([40, 50, 60, 70])
ax1.set_yticks([0.8, 1.2, 1.6])
ax1.set_yticklabels(['0.8', '1.2', '1.6'])
ax1.set_xlabel('Age', fontsize=10, va='top')
ax1.set_ylabel(r'log$_{10}$ (sNfL)', fontsize=10)
ax1.xaxis.set_label_coords(0.5, -0.06)
ax1.yaxis.set_label_coords(-0.046, 0.5)

ax2 = fig.add_axes([0.092, 0.3575, 0.8745, 0.2783])
draw_panel(ax2, long_table(p2_age0 + p2b_age0, p2_age1 + p2b_age1,
                           p2_y0 + p2b_y0, p2_y1 + p2b_y1), p2_fit, p2_ci)
ax2.set_xlim(33.9, 73.0)
ax2.set_ylim(-1.88, 1.67)
ax2.set_xticks([40, 50, 60, 70])
ax2.set_yticks([-1, 0, 1])
ax2.set_yticklabels(['-1', '0', '1'])
ax2.set_xlabel('Age', fontsize=10, va='top')
ax2.set_ylabel(r'log$_{10}$ (WML volume)', fontsize=10)
ax2.xaxis.set_label_coords(0.5, -0.036)
ax2.yaxis.set_label_coords(-0.035, 0.5)

ax3 = fig.add_axes([0.1007, 0.0225, 0.8657, 0.2783])
draw_panel(ax3, long_table(p3_age0 + p3b_age0, p3_age1 + p3b_age1,
                           p3_y0 + p3b_y0, p3_y1 + p3b_y1), p3_fit, p3_ci)
ax3.set_xlim(33.8, 73.1)
ax3.set_ylim(0.368, 0.510)
ax3.set_xticks([40, 50, 60, 70])
ax3.set_yticks([0.40, 0.44, 0.48])
ax3.set_yticklabels(['0.40', '0.44', '0.48'])
ax3.set_xlabel('Age', fontsize=10, va='top')
ax3.set_ylabel('Global FA', fontsize=10)
ax3.xaxis.set_label_coords(0.5, -0.057)
ax3.yaxis.set_label_coords(-0.056, 0.5)

fig.savefig('out.png', dpi=100)
